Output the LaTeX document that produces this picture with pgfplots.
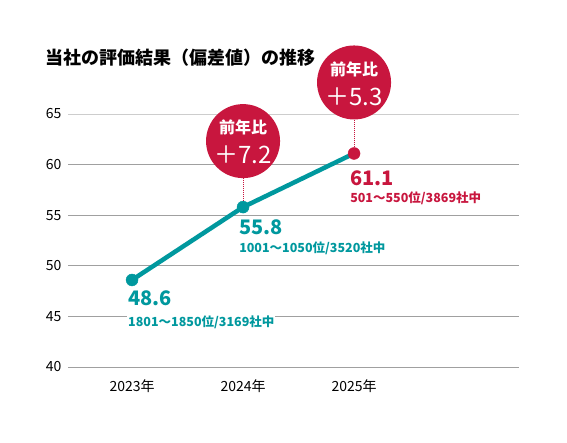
\documentclass[border=0pt]{standalone}
\usepackage{fontspec}
\setmainfont{Noto Sans CJK JP}
\usepackage{pgfplots}
\pgfplotsset{compat=1.18}
\definecolor{myteal}{RGB}{0,152,158}
\definecolor{myred}{RGB}{200,22,62}
\definecolor{gridgray}{RGB}{160,160,160}
\definecolor{lightgrid}{RGB}{205,205,205}

\begin{document}
\begin{tikzpicture}[x=1pt,y=1pt]
\path[use as bounding box] (-68,-76) rectangle (499,367);
\node[anchor=west, inner sep=0, font=\bfseries\fontsize{18}{18}\selectfont] at (-23,309) {当社の評価結果（偏差値）の推移};
\begin{axis}[
    at={(0,0)}, anchor=south west,
    scale only axis, width=451pt, height=253pt,
    xmin=-0.577, xmax=3.486, ymin=40, ymax=65,
    axis line style={draw=none}, tick style={draw=none},
    ytick={40,45,...,65},
    xtick={0,1,2}, xticklabels={2023年,2024年,2025年},
    ymajorgrids, grid style={gridgray, line width=0.9pt},
    tick label style={font=\fontsize{14}{14}\selectfont},
    /pgf/number format/assume math mode=true,
    yticklabel style={xshift=-3pt},
    xticklabel style={yshift=-9pt},
    clip=false,
]
\draw[lightgrid, line width=0.9pt] (axis cs:-0.577,65) -- (axis cs:3.486,65);

% dotted connectors and bubbles
\draw[myred, densely dotted, line width=1pt] ([yshift=6pt]axis cs:1,55.8) -- ([yshift=40pt]axis cs:1,55.8);
\draw[myred, densely dotted, line width=1pt] ([yshift=6pt]axis cs:2,61.1) -- ([yshift=40pt]axis cs:2,61.1);
\fill[myred] ([yshift=66pt]axis cs:1,55.8) circle (37pt);
\fill[myred] ([yshift=71pt]axis cs:2,61.1) circle (37pt);
\node[white, inner sep=0, font=\bfseries\fontsize{16}{16}\selectfont] at ([yshift=80pt]axis cs:1,55.8) {前年比};
\node[white, inner sep=0, font=\fontsize{24}{24}\selectfont] at ([yshift=52pt]axis cs:1,55.8) {＋7.2};
\node[white, inner sep=0, font=\bfseries\fontsize{16}{16}\selectfont] at ([yshift=84pt]axis cs:2,61.1) {前年比};
\node[white, inner sep=0, font=\fontsize{24}{24}\selectfont] at ([yshift=57pt]axis cs:2,61.1) {＋5.3};

\addplot[myteal, line width=4.5pt] coordinates {(0,48.6) (1,55.8) (2,61.1)};
\addplot[myteal, only marks, mark=*, mark size=6pt] coordinates {(0,48.6) (1,55.8)};
\addplot[myred, only marks, mark=*, mark size=6pt] coordinates {(2,61.1)};

% value labels
\node[anchor=west, inner sep=0, text=myteal, font=\bfseries\fontsize{20}{20}\selectfont] at ([xshift=-4pt, yshift=-18pt]axis cs:0,48.6) {48.6};
\node[anchor=west, inner sep=1pt, fill=white, text=myteal, font=\bfseries\fontsize{12.5}{12.5}\selectfont] at ([xshift=-5pt, yshift=-42pt]axis cs:0,48.6) {1801～1850位/3169社中};
\node[anchor=west, inner sep=0, text=myteal, font=\bfseries\fontsize{20}{20}\selectfont] at ([xshift=-4pt, yshift=-20pt]axis cs:1,55.8) {55.8};
\node[anchor=west, inner sep=1pt, fill=white, text=myteal, font=\bfseries\fontsize{12.5}{12.5}\selectfont] at ([xshift=-5pt, yshift=-41pt]axis cs:1,55.8) {1001～1050位/3520社中};
\node[anchor=west, inner sep=0, text=myred, font=\bfseries\fontsize{20}{20}\selectfont] at ([xshift=-4pt, yshift=-25pt]axis cs:2,61.1) {61.1};
\node[anchor=west, inner sep=1pt, fill=white, text=myred, font=\bfseries\fontsize{12.5}{12.5}\selectfont] at ([xshift=-5pt, yshift=-45pt]axis cs:2,61.1) {501～550位/3869社中};
\end{axis}
\end{tikzpicture}
\end{document}
